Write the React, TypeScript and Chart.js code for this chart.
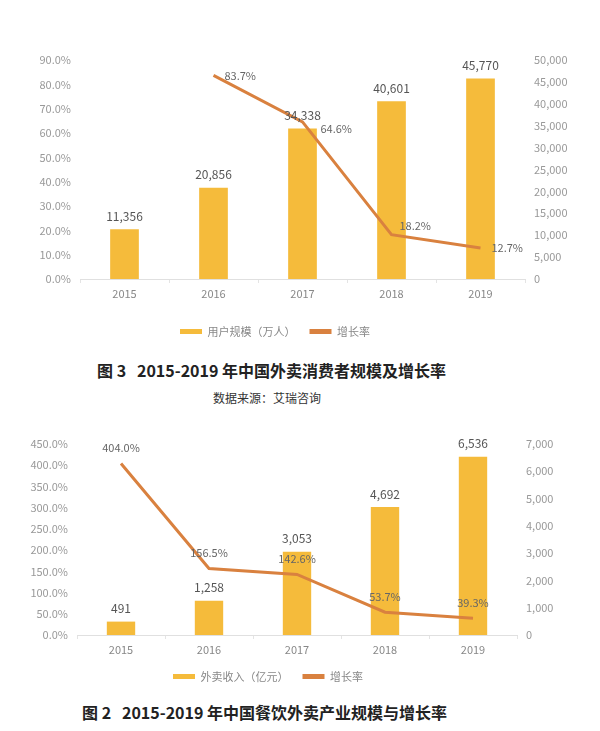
import { useEffect, useRef } from 'react';
import { Chart, registerables } from 'chart.js';

Chart.register(...registerables);

// ---- Data ----
const years = ['2015', '2016', '2017', '2018', '2019'];
// Chart 1: 外卖消费者规模
const userScale = [11356, 20856, 34338, 40601, 45770];
const userGrowth: (number | null)[] = [null, 83.7, 64.6, 18.2, 12.7];
// Chart 2: 餐饮外卖产业规模
const revenue = [491, 1258, 3053, 4692, 6536];
const revenueGrowth = [404.0, 156.5, 142.6, 53.7, 39.3];

// label placement for the growth-line labels
const userGrowthLabelPos = ['right', 'right', 'rightDown', 'rightUp', 'right'];
const revenueGrowthLabelPos = ['above', 'above', 'above', 'above', 'above'];

const BAR = '#F5BB3B';
const LINE = '#D9813F';
const FONT = '"Noto Sans CJK SC", "Noto Sans", sans-serif';

const valueLabels = {
  id: 'valueLabels',
  afterDatasetsDraw(chart: any, _args: any, opts: any) {
    const ctx = chart.ctx;
    ctx.save();
    chart.data.datasets.forEach((ds: any, di: number) => {
      const meta = chart.getDatasetMeta(di);
      meta.data.forEach((el: any, i: number) => {
        const v = ds.data[i];
        if (v === null || v === undefined) return;
        if (ds.type === 'bar') {
          ctx.font = `12px ${FONT}`;
          ctx.fillStyle = '#555';
          ctx.textAlign = 'center';
          ctx.textBaseline = 'bottom';
          ctx.fillText(v.toLocaleString('en-US'), el.x, el.y - 7);
        } else {
          const pos = (opts.linePos || [])[i] || 'above';
          ctx.font = `11px ${FONT}`;
          ctx.fillStyle = '#666';
          const txt = v.toFixed(1) + '%';
          if (pos === 'above') {
            ctx.textAlign = 'center';
            ctx.textBaseline = 'bottom';
            ctx.fillText(txt, el.x, el.y - 10);
          } else {
            ctx.textAlign = 'left';
            ctx.textBaseline = 'middle';
            let dx = 11;
            let dy = 0;
            if (pos === 'rightDown') { dx = 18; dy = 7; }
            if (pos === 'rightUp') { dx = 8; dy = -9; }
            ctx.fillText(txt, el.x + dx, el.y + dy);
          }
        }
      });
    });
    ctx.restore();
  },
};

const legendShift = {
  id: 'legendShift',
  afterLayout(chart: any, _args: any, opts: any) {
    const l = chart.legend;
    if (l && opts && opts.dx) {
      l.left += opts.dx;
      l.right += opts.dx;
    }
  },
};

function makeConfig(
  barLabel: string,
  barData: number[],
  lineData: (number | null)[],
  leftMax: number,
  leftStep: number,
  rightMax: number,
  rightStep: number,
  leftWidth: number,
  rightWidth: number,
  xHeight: number,
  padTop: number,
  legendDx: number,
  linePos: string[]
): any {
  return {
    data: {
      labels: years,
      datasets: [
        {
          type: 'bar',
          label: barLabel,
          data: barData,
          backgroundColor: BAR,
          borderWidth: 0,
          yAxisID: 'yR',
          order: 1,
          barPercentage: 0.62,
          categoryPercentage: 0.52,
        },
        {
          type: 'line',
          label: '增长率',
          data: lineData,
          borderColor: LINE,
          backgroundColor: LINE,
          borderWidth: 3,
          pointRadius: 0,
          tension: 0,
          yAxisID: 'yL',
          order: 0,
        },
      ],
    },
    options: {
      responsive: true,
      maintainAspectRatio: false,
      animation: false,
      layout: { padding: { top: padTop, left: 0, right: 0, bottom: 0 } },
      plugins: {
        tooltip: { enabled: false },
        valueLabels: { linePos },
        legendShift: { dx: legendDx },
        legend: {
          position: 'bottom',
          labels: {
            sort: (a: any, b: any) => a.datasetIndex - b.datasetIndex,
            boxWidth: 22,
            boxHeight: 5,
            padding: 14,
            color: '#888',
            font: { family: FONT, size: 11 },
            generateLabels: (chart: any) =>
              Chart.defaults.plugins.legend.labels
                .generateLabels(chart)
                .map((it: any) => ({ ...it, lineWidth: 0 })),
          },
        },
      },
      scales: {
        x: {
          offset: true,
          grid: {
            display: true,
            drawOnChartArea: false,
            drawTicks: true,
            tickLength: 4,
            color: '#e4e4e4',
            offset: true,
          },
          border: { display: true, color: '#e0e0e0' },
          ticks: { color: '#888', font: { family: FONT, size: 11 }, padding: 4 },
          afterFit: (s: any) => {
            s.height = xHeight;
          },
        },
        yL: {
          position: 'left',
          min: 0,
          max: leftMax,
          grid: { display: false, drawTicks: false },
          border: { display: false },
          ticks: {
            stepSize: leftStep,
            color: '#999',
            padding: 9,
            font: { family: FONT, size: 11 },
            callback: (v: any) => Number(v).toFixed(1) + '%',
          },
          afterFit: (s: any) => {
            s.width = leftWidth;
          },
        },
        yR: {
          position: 'right',
          min: 0,
          max: rightMax,
          grid: { display: false, drawTicks: false },
          border: { display: false },
          ticks: {
            stepSize: rightStep,
            color: '#999',
            padding: 9,
            font: { family: FONT, size: 11 },
            callback: (v: any) => Number(v).toLocaleString('en-US'),
          },
          afterFit: (s: any) => {
            s.width = rightWidth;
          },
        },
      },
    },
    plugins: [valueLabels, legendShift],
  };
}

function ChartBox({ config, style }: { config: any; style: React.CSSProperties }) {
  const ref = useRef<HTMLCanvasElement | null>(null);
  useEffect(() => {
    if (!ref.current) return;
    const c = new Chart(ref.current, config);
    return () => c.destroy();
  }, [config]);
  return (
    <div style={{ position: 'absolute', ...style }}>
      <canvas ref={ref} />
    </div>
  );
}

const config1 = makeConfig('用户规模（万人）', userScale, userGrowth, 90, 10, 50000, 5000, 80, 75, 33, 25, -25, userGrowthLabelPos);
const config2 = makeConfig('外卖收入（亿元）', revenue, revenueGrowth, 450, 50, 7000, 1000, 77, 83, 22, 24, -32, revenueGrowthLabelPos);

export default function App() {
  useEffect(() => {
    document.body.style.margin = '0';
    document.body.style.background = '#fff';
  }, []);
  const caption: React.CSSProperties = {
    position: 'absolute',
    fontFamily: FONT,
    fontWeight: 'bold',
    fontSize: 16,
    color: '#222',
    whiteSpace: 'pre',
    lineHeight: '20px',
  };
  return (
    <div style={{ position: 'relative', width: 600, height: 731, background: '#fff', overflow: 'hidden' }}>
      <ChartBox config={config1} style={{ left: 0, top: 35, width: 600, height: 312 }} />
      <div style={{ ...caption, left: 97, top: 360 }}>{'图 3   2015-2019 年中国外卖消费者规模及增长率'}</div>
      <div style={{ ...caption, fontWeight: 'normal', fontSize: 12, color: '#333', left: 213, top: 388 }}>
        {'数据来源：艾瑞咨询'}
      </div>
      <ChartBox config={config2} style={{ left: 0, top: 420, width: 600, height: 272 }} />
      <div style={{ ...caption, left: 82, top: 702 }}>{'图 2   2015-2019 年中国餐饮外卖产业规模与增长率'}</div>
    </div>
  );
}
